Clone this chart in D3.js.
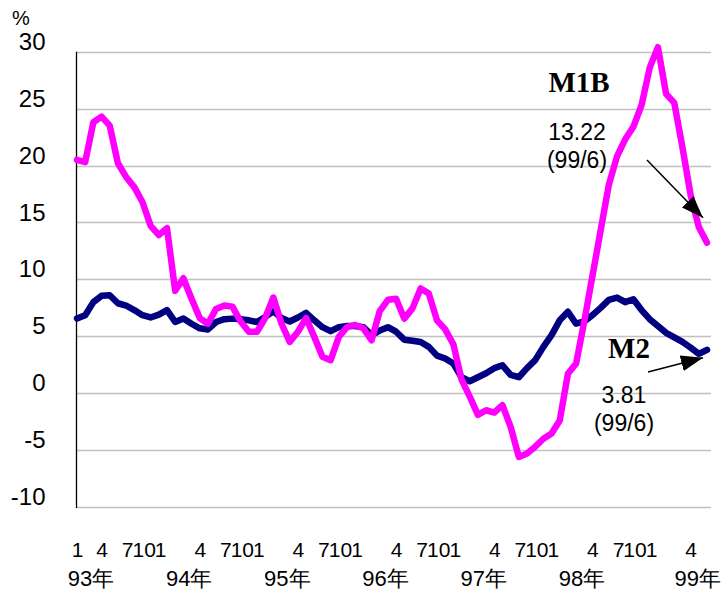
<!DOCTYPE html>
<html>
<head>
<meta charset="utf-8">
<script src="https://cdn.jsdelivr.net/npm/d3@7"></script>
<style>
  body { margin: 0; background: #fff; }
</style>
</head>
<body>
<div id="thediv"></div>
<script>
// monthly growth rates, 93/1 .. 99/6
var years = [93, 94, 95, 96, 97, 98, 99];
var months = [1, 2, 3, 4, 5, 6, 7, 8, 9, 10, 11, 12];
var labelMonths = [1, 4, 7, 10];
var yTicks = [-10, -5, 0, 5, 10, 15, 20, 25, 30];

var m1b = [20.5, 20.3, 23.8, 24.3, 23.5, 20.2, 19.0, 18.1, 16.8, 14.7, 13.9, 14.5,
           9.0, 10.1, 8.3, 6.6, 6.1, 7.4, 7.7, 7.6, 6.3, 5.4, 5.4, 6.6,
           8.4, 6.1, 4.5, 5.4, 6.6, 4.95, 3.2, 2.9, 4.95, 5.8, 6.0, 5.7,
           4.65, 7.2, 8.2, 8.3, 6.55, 7.45, 9.2, 8.75, 6.4, 5.6, 4.3, 1.2,
           -0.3, -1.9, -1.5, -1.7, -1.05, -2.96, -5.6, -5.3, -4.7, -4.0, -3.55, -2.4,
           1.7, 2.6, 6.3, 10.3, 14.3, 18.3, 20.8, 22.3, 23.4, 25.3, 28.6, 30.4,
           26.3, 25.5, 21.6, 17.4, 14.6, 13.22];
var m2 = [6.56, 6.85, 8.0, 8.55, 8.6, 7.9, 7.7, 7.3, 6.85, 6.65, 6.9, 7.3,
          6.25, 6.55, 6.1, 5.7, 5.6, 6.25, 6.5, 6.55, 6.5, 6.4, 6.25, 6.7,
          7.2, 6.6, 6.3, 6.65, 7.05, 6.4, 5.8, 5.45, 5.8, 5.9, 5.9, 5.8,
          5.1, 5.5, 5.8, 5.4, 4.7, 4.6, 4.5, 4.07, 3.3, 3.05, 2.6, 1.4,
          1.05, 1.4, 1.75, 2.2, 2.45, 1.6, 1.4, 2.2, 2.9, 4.07, 5.1, 6.4,
          7.15, 6.1, 6.3, 6.85, 7.5, 8.2, 8.4, 8.0, 8.25, 7.3, 6.5, 5.9,
          5.3, 4.9, 4.5, 4.0, 3.45, 3.81];

var sans = '"Liberation Sans", Arial, sans-serif';
var serif = '"Liberation Serif", "Times New Roman", serif';

var svgWidth = 722;
var svgHeight = 592;
var svg = d3.select('#thediv').append('svg').attr('width', svgWidth).attr('height', svgHeight)
  .style('font-family', sans);

// category index -> {year, month}
var cats = m1b.map(function(d, i){
  return { year: years[Math.floor(i / 12)], month: months[i % 12] };
});

var x = d3.scaleLinear().domain([0, cats.length - 1]).range([77, 707]);
var y = d3.scaleLinear().domain([-10, 30]).range([507, 51.7]);

// gridlines
svg.append('g').selectAll('line')
  .data(yTicks)
  .enter()
  .append('line')
  .attr('x1', 76).attr('x2', 711)
  .attr('y1', function(d){ return Math.round(y(d)) + 0.5; })
  .attr('y2', function(d){ return Math.round(y(d)) + 0.5; })
  .attr('stroke', '#c0c0c0').attr('stroke-width', 1.3);

// y axis
var yAxis = svg.append('g').attr('transform', 'translate(76.5,0)')
  .call(d3.axisLeft(y).tickValues(yTicks).tickSize(0).tickPadding(31).tickFormat(function(d){ return String(d); }));
yAxis.select('.domain').attr('stroke', '#000').attr('stroke-width', 1.3).attr('d', 'M0,' + y(30) + 'V' + (y(-10) + 1));
yAxis.selectAll('text').attr('font-size', 24).style('font-family', sans).attr('fill', '#000').attr('dy', '-0.1em');

svg.append('text').attr('x', 12).attr('y', 25).attr('font-size', 20).text('%');

// month labels (7,10,1 run together as in the source)
var tickIdx = cats.map(function(c, i){ return i; }).filter(function(i){ return labelMonths.indexOf(cats[i].month) >= 0; });
var shift = { 1: -15, 4: 0, 7: 1, 10: -7 };
var xAxis = svg.append('g').attr('transform', 'translate(0,540)')
  .call(d3.axisBottom(x).tickValues(tickIdx).tickSize(0).tickFormat(function(i){ return cats[i].month; }));
xAxis.select('.domain').remove();
xAxis.selectAll('text')
  .attr('font-size', 21).style('font-family', sans).attr('fill', '#000')
  .attr('y', 17).attr('dy', 0)
  .attr('dx', function(i){ return i === 0 ? 0 : shift[cats[i].month]; });

// year labels
svg.append('g').selectAll('text')
  .data(years)
  .enter()
  .append('text')
  .attr('font-size', 22)
  .attr('y', 586)
  .attr('text-anchor', function(d, k){ return k === years.length - 1 ? 'end' : 'middle'; })
  .attr('x', function(d, k){ return k === years.length - 1 ? svgWidth - 1 : x(k * 12) + 14; })
  .text(function(d){ return d + '年'; });

// lines
var line = d3.line().x(function(d, i){ return x(i); }).y(function(d){ return y(d); });
svg.append('path').datum(m2).attr('d', line).attr('fill', 'none')
  .attr('stroke', '#000080').attr('stroke-width', 6.5).attr('stroke-linejoin', 'round').attr('stroke-linecap', 'round');
svg.append('path').datum(m1b).attr('d', line).attr('fill', 'none')
  .attr('stroke', '#ff00ff').attr('stroke-width', 6.5).attr('stroke-linejoin', 'round').attr('stroke-linecap', 'round');

// annotations
svg.append('defs').append('marker')
  .attr('id', 'arr').attr('viewBox', '0 0 22 16').attr('refX', 22).attr('refY', 8)
  .attr('markerWidth', 22).attr('markerHeight', 16).attr('markerUnits', 'userSpaceOnUse')
  .attr('preserveAspectRatio', 'none')
  .attr('orient', 'auto')
  .append('path').attr('d', 'M0,0L22,8L0,16Z').attr('fill', '#000');

var last = m1b.length - 1;
var lx = x(last), y1 = y(m1b[last]), y2 = y(m2[last]);

svg.append('text').attr('x', 579).attr('y', 92).attr('text-anchor', 'middle')
  .style('font-family', serif).attr('font-weight', 'bold').attr('font-size', 29).text('M1B');
svg.append('text').attr('x', 577).attr('y', 140).attr('text-anchor', 'middle').attr('font-size', 23).text(m1b[last].toFixed(2));
svg.append('text').attr('x', 577).attr('y', 168).attr('text-anchor', 'middle').attr('font-size', 23).text('(99/6)');
svg.append('line').attr('x1', 647).attr('y1', 160).attr('x2', lx - 4).attr('y2', y1 - 25)
  .attr('stroke', '#000').attr('stroke-width', 1.5).attr('marker-end', 'url(#arr)');

svg.append('text').attr('x', 629).attr('y', 358).attr('text-anchor', 'middle')
  .style('font-family', serif).attr('font-weight', 'bold').attr('font-size', 29).text('M2');
svg.append('text').attr('x', 624).attr('y', 403).attr('text-anchor', 'middle').attr('font-size', 23).text(m2[last].toFixed(2));
svg.append('text').attr('x', 624).attr('y', 431).attr('text-anchor', 'middle').attr('font-size', 23).text('(99/6)');
svg.append('line').attr('x1', 648).attr('y1', 372).attr('x2', lx - 4).attr('y2', y2 + 8)
  .attr('stroke', '#000').attr('stroke-width', 1.5).attr('marker-end', 'url(#arr)');
</script>
</body>
</html>
